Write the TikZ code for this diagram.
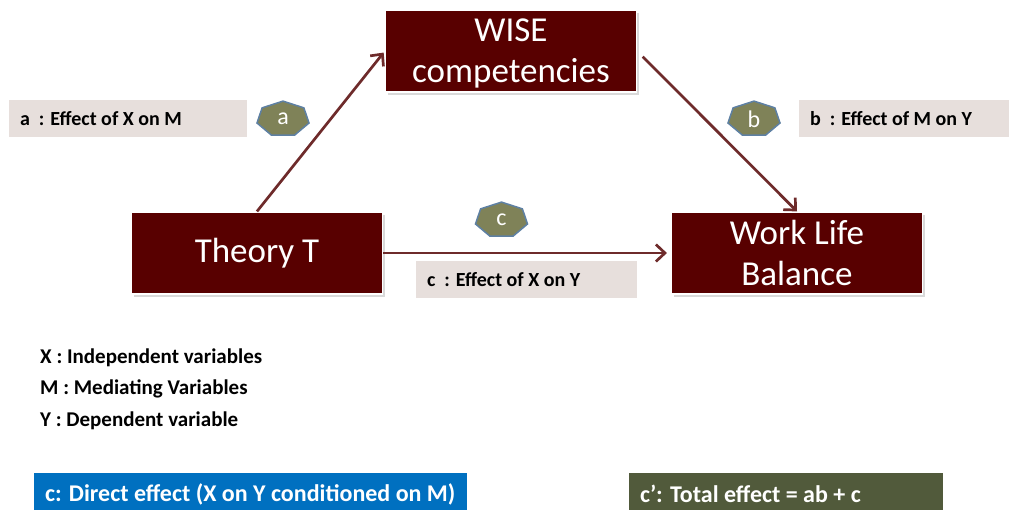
\documentclass[tikz,border=0pt]{standalone}
\usepackage{fontspec}
\setmainfont{Carlito}
\usetikzlibrary{arrows.meta,shadows}
\definecolor{boxred}{HTML}{580000}
\definecolor{arrowred}{HTML}{6E2B2B}
\definecolor{labelgray}{HTML}{E7DFDC}
\definecolor{heptolive}{HTML}{7F8258}
\definecolor{heptblue}{HTML}{5E80A3}
\definecolor{directblue}{HTML}{0070C0}
\definecolor{totalolive}{HTML}{515A3B}

\begin{document}
\begin{tikzpicture}[x=1pt,y=-1pt,
    varbox/.style={rectangle, draw=white, line width=1.2pt, fill=boxred, text=white, minimum width=251pt, minimum height=82pt, align=center, font=\fontsize{35}{41}\selectfont, drop shadow={shadow xshift=2pt, shadow yshift=-3pt, opacity=0.3}},
    effectbox/.style={rectangle, fill=labelgray, minimum height=37pt, inner xsep=11pt, align=flush left, font=\bfseries\fontsize{20}{24}\selectfont},
    hepta/.style={fill=heptolive, draw=heptblue, line width=1.5pt},
    heptext/.style={text=white, font=\fontsize{24}{28}\selectfont},
    effarrow/.style={-{Straight Barb[length=9pt,width=17pt]}, line width=2.7pt, arrowred},
    legend/.style={anchor=west, inner sep=0pt, font=\bfseries\fontsize{21}{25}\selectfont},
    summary/.style={rectangle, minimum height=42pt, inner xsep=11pt, text=white, align=flush left, font=\bfseries\fontsize{24}{28}\selectfont}
  ]
  \useasboundingbox (0,0) rectangle (1009,509);

  % Variables
  \node[varbox, text depth=0pt] (wise) at (511,51) {WISE\\competencies};
  \node[varbox] (theory) at (257,253) {Theory T};
  \node[varbox] (wlb) at (797,253) {Work Life\\Balance};

  % Effect labels
  \node[effectbox, text width=216pt] (laba) at (128,118.5) {a~ : Effect of X on M};
  \node[effectbox, text width=188pt] (labb) at (904,118.5) {b~ : Effect of M on Y};
  \node[effectbox, text width=199pt] (labc) at (526.5,279.5) {c~ : Effect of X on Y};

  % Path names
  \foreach \n/\cx/\cy in {a/283/119, b/754/119, c/501.5/220} {
    \filldraw[hepta, shift={(\cx,\cy)}] (-90:26.7 and 17.9)
      \foreach \k in {1,...,6} { -- ({-90+\k*360/7}:26.7 and 17.9) } -- cycle;
    \node[heptext] (hep\n) at (\cx,\cy) {\n};
  }

  % Arrows
  \draw[effarrow, shorten >=2pt] (theory.north) -- (wise.west);
  \draw[effarrow, shorten <=8pt] (wise.east) -- (wlb.north);
  \draw[effarrow, shorten >=4pt] (theory.east) -- (wlb.west);

  % Legend
  \node[legend] (legx) at (40,358) {X : Independent variables};
  \node[legend] (legm) at (40,389) {M : Mediating Variables};
  \node[legend] (legy) at (40,421) {Y : Dependent variable};

  % Summary
  \node[summary, fill=directblue, text width=411pt] (direct) at (250.5,494) {c: Direct effect (X on Y conditioned on M)};
  \node[summary, fill=totalolive, text width=292pt] (total) at (786,494) {c’: Total effect = ab + c};
\end{tikzpicture}
\end{document}
